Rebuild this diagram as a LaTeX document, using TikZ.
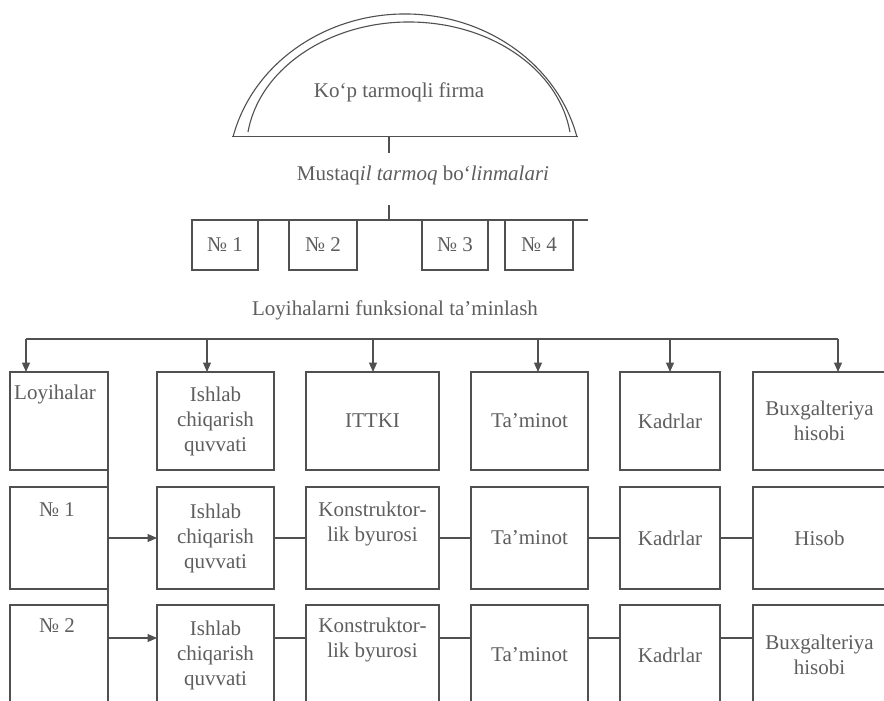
\documentclass[tikz,border=0pt]{standalone}
\usepackage{fontspec}
\setmainfont{Liberation Serif}
\usetikzlibrary{arrows.meta,calc}
\definecolor{ink}{HTML}{505050}
\definecolor{txt}{HTML}{5E5E5E}
\begin{document}
\begin{tikzpicture}[x=1pt,y=-1pt,
  line/.style={draw=ink,line width=1.1pt},
  arr/.style={line,-{Triangle[length=9.5pt,width=8pt]}},
  lbl/.style={text=txt,font=\fontsize{21}{25}\selectfont,inner sep=0pt,align=center},
  box/.style={line,rectangle,inner sep=0pt,outer sep=0pt,text=txt,font=\fontsize{21}{25}\selectfont,align=center},
  r1/.style={box,minimum height=98pt},
  r2/.style={box,minimum height=102pt},
  r3/.style={box,minimum height=100pt},
  wa/.style={minimum width=98pt},
  wb/.style={minimum width=117pt},
  wc/.style={minimum width=133pt},
  wd/.style={minimum width=117pt},
  we/.style={minimum width=100pt},
  wf/.style={minimum width=133pt},
  nbox/.style={box,minimum height=50pt}
]
\useasboundingbox (0,0) rectangle (884,701);
\clip (0,0) rectangle (884,701);
\fill[white] (0,0) rectangle (884,701);

% --- firm arch
\draw[line] (233,137) arc[start angle=166.35,end angle=13.65,x radius=177pt,y radius=161pt];
\draw[line] (248,132) arc[start angle=171.92,end angle=8.08,x radius=162.6pt,y radius=128pt];
\draw[line] (232,136.5) -- (578,136.5);
\node[lbl] (firm) at (399,92) {Ko‘p tarmoqli firma};
\coordinate (k0) at (389,136.5);
\coordinate (k1) at (389,153);
\draw[line] (k0) -- (k1);
\node[lbl] (mus) at (423,175) {Mustaq\textit{il tarmoq} bo‘\textit{linmalari}};
\coordinate (m0) at (389,205);
\coordinate (m1) at (389,220);
\draw[line] (m0) -- (m1);
\coordinate (mb0) at (192,220);
\coordinate (mb1) at (588,220);
\draw[line] (mb0) -- (mb1);
\node[nbox,minimum width=66pt] (n1) at (225,245) {№ 1};
\node[nbox,minimum width=68pt] (n2) at (323,245) {№ 2};
\node[nbox,minimum width=66pt] (n3) at (455,245) {№ 3};
\node[nbox,minimum width=68pt] (n4) at (539,245) {№ 4};

% --- functional support
\node[lbl] (fun) at (395,310) {Loyihalarni funksional ta’minlash};

% row 1
\node[r1,wa] (r1c1) at (59,421) {};
\node[r1,wb] (r1c2) at (215.5,421) {Ishlab\\chiqarish\\quvvati};
\node[r1,wc] (r1c3) at (372.5,421) {ITTKI};
\node[r1,wd] (r1c4) at (529.5,421) {Ta’minot};
\node[r1,we] (r1c5) at (670,421) {Kadrlar};
\node[r1,wf] (r1c6) at (819.5,421) {Buxgalteriya\\hisobi};
\node[lbl,anchor=base] (t1) at (55,399) {Loyihalar};

% row 2
\node[r2,wa] (r2c1) at (59,538) {};
\node[r2,wb] (r2c2) at (215.5,538) {Ishlab\\chiqarish\\quvvati};
\node[r2,wc] (r2c3) at (372.5,538) {};
\node[r2,wd] (r2c4) at (529.5,538) {Ta’minot};
\node[r2,we] (r2c5) at (670,538) {Kadrlar};
\node[r2,wf] (r2c6) at (819.5,538) {Hisob};
\node[lbl,anchor=base] (t2) at (57,516) {№ 1};
\node[lbl] (k2) at (372.5,523.5) {Konstruktor-\\lik byurosi};

% row 3
\node[r3,wa] (r3c1) at (59,655) {};
\node[r3,wb] (r3c2) at (215.5,655) {Ishlab\\chiqarish\\quvvati};
\node[r3,wc] (r3c3) at (372.5,655) {};
\node[r3,wd] (r3c4) at (529.5,655) {Ta’minot};
\node[r3,we] (r3c5) at (670,655) {Kadrlar};
\node[r3,wf] (r3c6) at (819.5,655) {Buxgalteriya\\hisobi};
\node[lbl,anchor=base] (t3) at (57,632) {№ 2};
\node[lbl] (k3) at (372.5,640) {Konstruktor-\\lik byurosi};

% top distribution bus
\coordinate (a1) at (26,339);
\coordinate (a2) at (207,339);
\coordinate (a3) at (373,339);
\coordinate (a4) at (538,339);
\coordinate (a5) at (670,339);
\coordinate (a6) at (838,339);
\draw[line] (a1) -- (a6);
\draw[arr] (a1) -- (a1 |- r1c1.north);
\draw[arr] (a2) -- (a2 |- r1c2.north);
\draw[arr] (a3) -- (a3 |- r1c3.north);
\draw[arr] (a4) -- (a4 |- r1c4.north);
\draw[arr] (a5) -- (a5 |- r1c5.north);
\draw[arr] (a6) -- (a6 |- r1c6.north);

% left bus
\coordinate (lb) at (108,712);
\draw[line] (r1c1.north east) -- (lb);
\coordinate (l2) at (108,538);
\coordinate (l3) at (108,638);
\draw[arr] (l2) -- (l2 -| r2c2.west);
\draw[arr] (l3) -- (l3 -| r3c2.west);

% row connectors
\draw[line] (l2 -| r2c2.east) -- (l2 -| r2c3.west);
\draw[line] (l2 -| r2c3.east) -- (l2 -| r2c4.west);
\draw[line] (l2 -| r2c4.east) -- (l2 -| r2c5.west);
\draw[line] (l2 -| r2c5.east) -- (l2 -| r2c6.west);
\draw[line] (l3 -| r3c2.east) -- (l3 -| r3c3.west);
\draw[line] (l3 -| r3c3.east) -- (l3 -| r3c4.west);
\draw[line] (l3 -| r3c4.east) -- (l3 -| r3c5.west);
\draw[line] (l3 -| r3c5.east) -- (l3 -| r3c6.west);
\end{tikzpicture}
\end{document}
